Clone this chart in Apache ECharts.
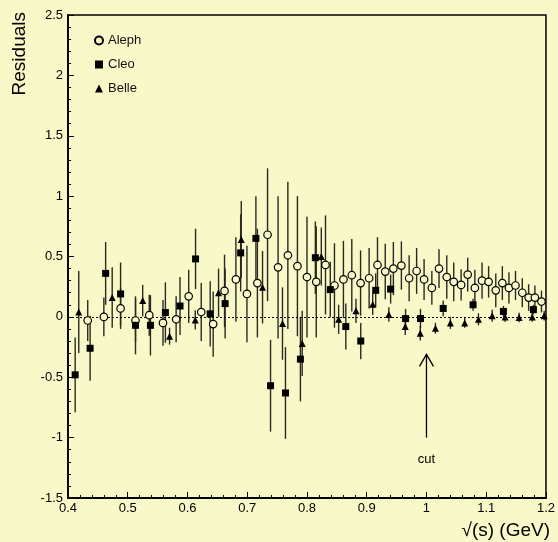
<!DOCTYPE html>
<html>
<head>
<meta charset="utf-8">
<script type="text/javascript" src="https://cdn.jsdelivr.net/npm/echarts@6/dist/echarts.min.js"></script>
<style>
  html, body { margin: 0; padding: 0; background: #f9f8c8; }
  #main { width: 558px; height: 542px; }
</style>
</head>
<body>
<div id="main"></div>
<script type="text/javascript">
	// Aleph (open circles): sqrt(s), residual, error
	var alephX = [0.433, 0.460, 0.488, 0.513, 0.536, 0.559, 0.581, 0.602, 0.623, 0.643,
		0.662, 0.681, 0.6995, 0.717, 0.734, 0.7516, 0.768, 0.784, 0.800, 0.8155,
		0.831, 0.846, 0.861, 0.875, 0.8897, 0.904, 0.918, 0.931, 0.9446, 0.958,
		0.971, 0.9835, 0.996, 1.009, 1.021, 1.034, 1.0456, 1.058, 1.069, 1.081,
		1.093, 1.104, 1.116, 1.127, 1.138, 1.149, 1.1604, 1.171, 1.1815, 1.1925];
	var alephY = [-0.03, 0.00, 0.07, -0.03, 0.014, -0.05, -0.02, 0.17, 0.04, -0.06,
		0.215, 0.31, 0.19, 0.28, 0.68, 0.41, 0.51, 0.42, 0.33, 0.29,
		0.43, 0.26, 0.31, 0.345, 0.28, 0.32, 0.43, 0.375, 0.40, 0.425,
		0.32, 0.38, 0.31, 0.24, 0.40, 0.33, 0.29, 0.265, 0.35, 0.24,
		0.30, 0.29, 0.22, 0.28, 0.24, 0.26, 0.20, 0.16, 0.16, 0.127];
	var alephErr = [0.17, 0.16, 0.17, 0.18, 0.17, 0.19, 0.19, 0.22, 0.24, 0.27,
		0.30, 0.35, 0.40, 0.45, 0.55, 0.59, 0.61, 0.58, 0.50, 0.46,
		0.41, 0.35, 0.32, 0.30, 0.27, 0.25, 0.23, 0.23, 0.22, 0.20,
		0.19, 0.19, 0.17, 0.14, 0.16, 0.18, 0.16, 0.13, 0.14, 0.15,
		0.15, 0.13, 0.14, 0.14, 0.13, 0.12, 0.12, 0.11, 0.10, 0.09];

	// Cleo (filled squares)
	var cleoX = [0.412, 0.437, 0.463, 0.488, 0.513, 0.538, 0.563, 0.5875, 0.6135, 0.638,
		0.663, 0.689, 0.7145, 0.739, 0.764, 0.789, 0.814, 0.839, 0.865, 0.890,
		0.915, 0.940, 0.965, 0.990, 1.028, 1.078, 1.1288, 1.179];
	var cleoY = [-0.48, -0.26, 0.36, 0.19, -0.07, -0.07, 0.036, 0.09, 0.48, 0.025,
		0.11, 0.53, 0.65, -0.57, -0.63, -0.35, 0.49, 0.226, -0.08, -0.20,
		0.22, 0.23, -0.014, -0.014, 0.07, 0.10, 0.045, 0.06];
	var cleoErr = [0.31, 0.27, 0.26, 0.26, 0.24, 0.25, 0.25, 0.24, 0.25, 0.27,
		0.29, 0.32, 0.35, 0.38, 0.38, 0.35, 0.30, 0.23, 0.19, 0.15,
		0.14, 0.12, 0.08, 0.08, 0.065, 0.05, 0.045, 0.04];

	// Belle (filled triangles)
	var belleX = [0.418, 0.474, 0.525, 0.570, 0.613, 0.652, 0.690, 0.7256, 0.759, 0.792,
		0.824, 0.853, 0.882, 0.910, 0.937, 0.9645, 0.9896, 1.015, 1.040, 1.064,
		1.087, 1.110, 1.1316, 1.155, 1.177, 1.197];
	var belleY = [0.04, 0.16, 0.135, -0.16, -0.025, 0.20, 0.64, 0.245, -0.055, -0.22,
		0.50, -0.02, 0.05, 0.105, 0.02, -0.08, -0.135, -0.094, -0.05, -0.05,
		-0.02, 0.01, 0.00, -0.005, 0.00, 0.01];
	var belleErr = [0.34, 0.25, 0.13, 0.07, 0.08, 0.20, 0.32, 0.30, 0.30, 0.27,
		0.24, 0.12, 0.10, 0.09, 0.06, 0.07, 0.06, 0.045, 0.05, 0.04,
		0.05, 0.05, 0.04, 0.04, 0.04, 0.04];

	// "cut" arrow
	var cutX = 1.0;
	var cutFrom = -1.0;
	var cutTo = -0.31;
	var cutLabelY = -1.18;

	var bg = '#f9f8c8';
	var font = 'Liberation Sans, Arial, Helvetica, sans-serif';

	function zip3(xs, ys, es) {
		var out = [];
		for (var i = 0; i < xs.length; i++) {
			out.push([xs[i], ys[i], es[i]]);
		}
		return out;
	}

	function errorBars(name, data) {
		return {
			name : name,
			type : 'custom',
			clip : true,
			z : 2,
			silent : true,
			data : data,
			renderItem : function(params, api) {
				var x = api.value(0), y = api.value(1), e = api.value(2);
				var p1 = api.coord([ x, y - e ]);
				var p2 = api.coord([ x, y + e ]);
				return {
					type : 'line',
					shape : { x1 : p1[0], y1 : p1[1], x2 : p2[0], y2 : p2[1] },
					style : { stroke : '#2a2a22', lineWidth : 1.4 }
				};
			}
		};
	}

	var myChart = echarts.init(document.getElementById('main'));
	var option = {
		backgroundColor : bg,
		animation : false,
		grid : {
			left : 68, right : 9, top : 15, bottom : 44,
			show : true,
			borderColor : '#000',
			borderWidth : 1.5,
			backgroundColor : 'transparent'
		},
		legend : {
			orient : 'vertical',
			left : 89,
			top : 29,
			itemWidth : 8,
			itemHeight : 8,
			itemGap : 11,
			data : [ 'Aleph', 'Cleo', 'Belle' ],
			textStyle : { fontFamily : font, fontSize : 13, color : '#111' }
		},
		xAxis : {
			type : 'value',
			min : 0.4,
			max : 1.2,
			interval : 0.1,
			axisLine : { onZero : false, lineStyle : { color : '#000', width : 1.8 } },
			axisTick : { inside : true, length : 6, lineStyle : { color : '#000' } },
			minorTick : { show : true, splitNumber : 5, length : 3, lineStyle : { color : '#000' } },
			splitLine : { show : false },
			axisLabel : { margin : 4, fontFamily : font, fontSize : 13, color : '#000' }
		},
		yAxis : {
			type : 'value',
			min : -1.5,
			max : 2.5,
			interval : 0.5,
			axisLine : { show : true, onZero : false, lineStyle : { color : '#000', width : 1.8 } },
			axisTick : { show : true, inside : true, length : 6, lineStyle : { color : '#000' } },
			minorTick : { show : true, splitNumber : 5, length : 3, lineStyle : { color : '#000' } },
			splitLine : { show : false },
			axisLabel : { margin : 5, fontFamily : font, fontSize : 13, color : '#000' }
		},
		graphic : [ {
			type : 'text',
			left : 10,
			top : 12,
			rotation : Math.PI / 2,
			style : { text : 'Residuals', font : '19px ' + font, fill : '#000' }
		}, {
			type : 'text',
			right : 8,
			top : 521,
			style : { text : '\u221a(s) (GeV)', font : '19px ' + font, fill : '#000' }
		} ],
		series : [
			errorBars('alephErr', zip3(alephX, alephY, alephErr)),
			errorBars('cleoErr', zip3(cleoX, cleoY, cleoErr)),
			errorBars('belleErr', zip3(belleX, belleY, belleErr)),
			{
				name : 'Aleph',
				type : 'scatter',
				z : 5,
				symbol : 'circle',
				symbolSize : 7.5,
				itemStyle : { color : bg, borderColor : '#000', borderWidth : 1.2, opacity : 1 },
				data : zip3(alephX, alephY, alephErr),
				markLine : {
					silent : true,
					symbol : [ 'none', 'none' ],
					label : { show : false },
					lineStyle : { color : '#000', type : [ 2, 2 ], width : 1 },
					data : [ { yAxis : 0 } ]
				}
			}, {
				name : 'Cleo',
				type : 'scatter',
				z : 5,
				symbol : 'rect',
				symbolSize : 7,
				itemStyle : { color : '#000', opacity : 1 },
				data : zip3(cleoX, cleoY, cleoErr)
			}, {
				name : 'Belle',
				type : 'scatter',
				z : 5,
				symbol : 'triangle',
				symbolSize : 7,
				itemStyle : { color : '#000', opacity : 1 },
				data : zip3(belleX, belleY, belleErr)
			}, {
				name : 'cut',
				type : 'custom',
				z : 4,
				silent : true,
				data : [ [ cutX, cutFrom, cutTo, cutLabelY ] ],
				renderItem : function(params, api) {
					var x = api.value(0);
					var a = api.coord([ x, api.value(1) ]);
					var b = api.coord([ x, api.value(2) ]);
					var t = api.coord([ x, api.value(3) ]);
					return {
						type : 'group',
						children : [ {
							type : 'line',
							shape : { x1 : a[0], y1 : a[1], x2 : b[0], y2 : b[1] },
							style : { stroke : '#000', lineWidth : 1.3 }
						}, {
							type : 'polyline',
							shape : { points : [ [ b[0] - 7, b[1] + 12 ], [ b[0], b[1] ], [ b[0] + 7, b[1] + 12 ] ] },
							style : { stroke : '#000', lineWidth : 1.3, fill : null }
						}, {
							type : 'text',
							x : t[0],
							y : t[1],
							style : {
								text : 'cut',
								font : '13px ' + font,
								fill : '#000',
								align : 'center',
								verticalAlign : 'middle'
							}
						} ]
					};
				}
			}
		]
	};
	myChart.setOption(option);
</script>
</body>
</html>
